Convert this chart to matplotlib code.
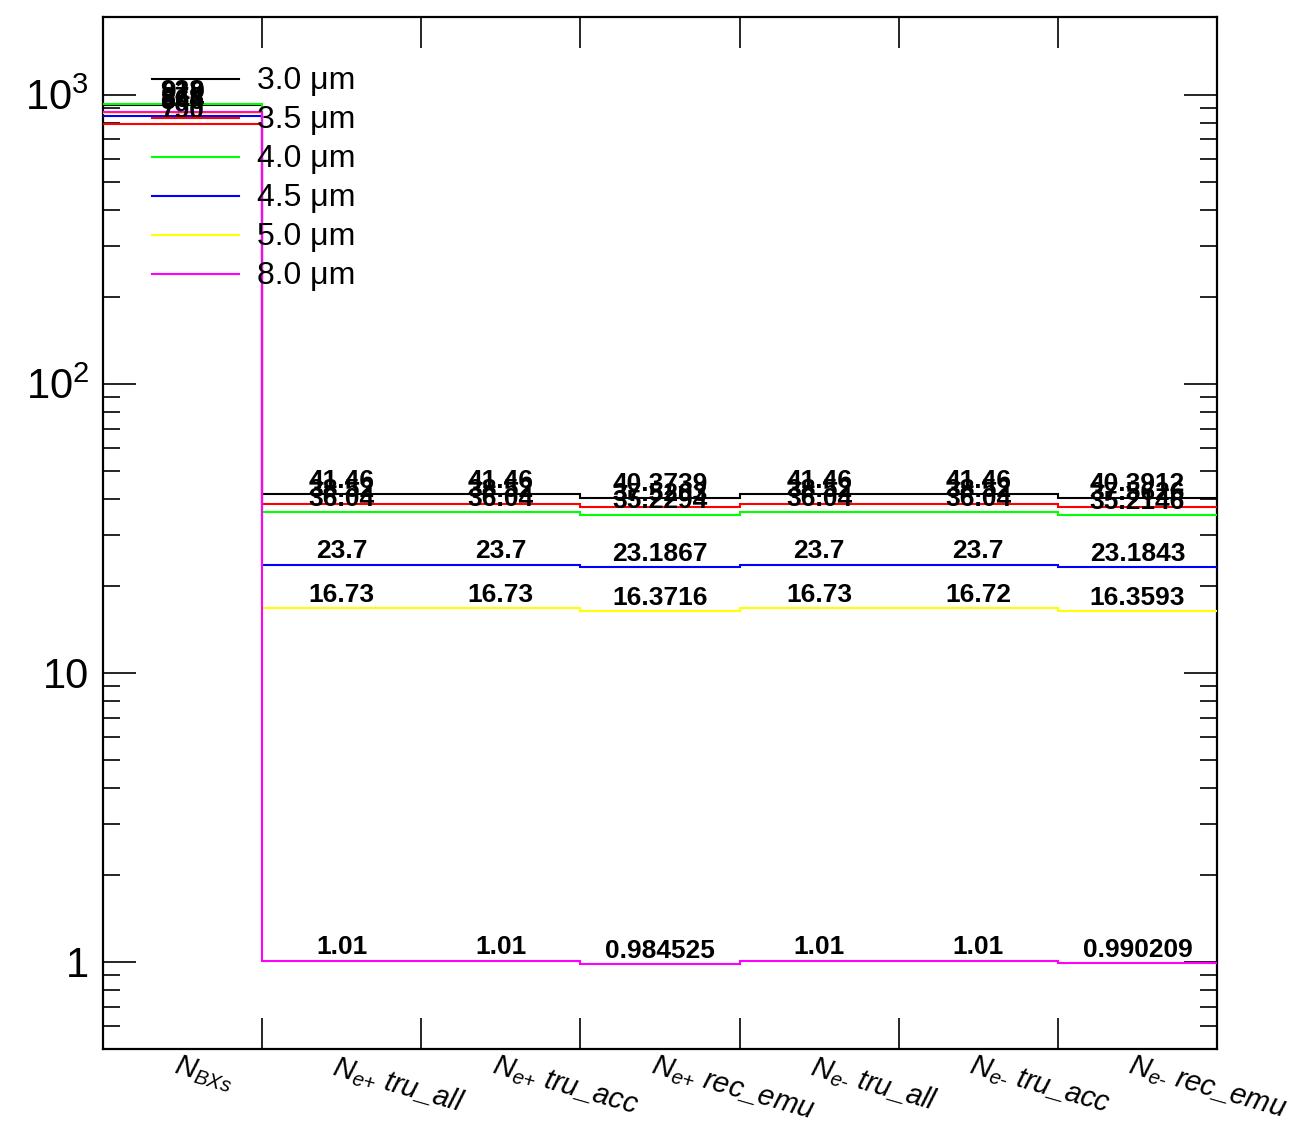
import matplotlib
matplotlib.use("Agg")
import matplotlib.pyplot as plt
import matplotlib.transforms as mtransforms
from matplotlib.ticker import FixedLocator, FixedFormatter, LogLocator, NullFormatter
import numpy as np

plt.rcParams['font.family'] = ['Liberation Sans', 'DejaVu Sans']
plt.rcParams['mathtext.fontset'] = 'custom'
plt.rcParams['mathtext.rm'] = 'Liberation Sans'
plt.rcParams['mathtext.it'] = 'Liberation Sans:italic'
plt.rcParams['mathtext.bf'] = 'Liberation Sans:bold'

# ---- data ----
categories = [r"$N_{BXs}$",
              r"$N_{e\text{+}}$ tru_all", r"$N_{e\text{+}}$ tru_acc", r"$N_{e\text{+}}$ rec_emu",
              r"$N_{e\text{-}}$ tru_all", r"$N_{e\text{-}}$ tru_acc", r"$N_{e\text{-}}$ rec_emu"]
series_labels = ["3.0 μm", "3.5 μm", "4.0 μm", "4.5 μm", "5.0 μm", "8.0 μm"]
series_colors = ["#000000", "#ff0000", "#00ff00", "#0000ff", "#ffff00", "#ff00ff"]
vals_30 = [919, 41.46, 41.46, 40.3739, 41.46, 41.46, 40.3912]
vals_35 = [790, 38.52, 38.52, 37.5203, 38.52, 38.52, 37.5626]
vals_40 = [928, 36.04, 36.04, 35.2294, 36.04, 36.04, 35.2146]
vals_45 = [846, 23.7, 23.7, 23.1867, 23.7, 23.7, 23.1843]
vals_50 = [864, 16.73, 16.73, 16.3716, 16.73, 16.72, 16.3593]
vals_80 = [873, 1.01, 1.01, 0.984525, 1.01, 1.01, 0.990209]
all_series = [vals_30, vals_35, vals_40, vals_45, vals_50, vals_80]

nb = len(categories)
edges = np.arange(nb + 1)
centers = edges[:-1] + 0.5

W, H = 1297, 1125
fig = plt.figure(figsize=(W / 100, H / 100), dpi=100)
L, R, B, T = 103, 1217, 1049, 17
ax = fig.add_axes([L / W, (H - B) / H, (R - L) / W, (B - T) / H])

ax.set_yscale('log')
ymax = 2 * max(max(s) for s in all_series)
ax.set_ylim(0.5, ymax)
ax.set_xlim(0, nb)

for vals, col in zip(all_series, series_colors):
    ax.stairs(vals, edges, color=col, lw=1.5, baseline=None, zorder=3)
    for c, v in zip(centers, vals):
        ax.annotate(f"{v:g}", (c, v), xytext=(0, 4.5), textcoords='offset points',
                    ha='center', va='baseline', fontsize=19, fontweight='bold',
                    color='black', zorder=4)

# spines
for sp in ax.spines.values():
    sp.set_linewidth(1.6)

# x ticks at bin edges, labels placed below bin centers
ax.xaxis.set_major_locator(FixedLocator(edges[1:-1]))
ax.xaxis.set_major_formatter(NullFormatter())
ax.tick_params(axis='x', which='major', direction='in', length=22, width=1.2,
               top=True, bottom=True)
ax.tick_params(axis='x', which='minor', length=0)

trans = mtransforms.blended_transform_factory(ax.transData, ax.transAxes) + \
    mtransforms.ScaledTranslation(-4 / 100, -2 / 100, fig.dpi_scale_trans)
for c, lab in zip(centers, categories):
    ax.text(c, 0, lab, transform=trans, rotation=-16, rotation_mode='anchor',
            ha='left', va='top', fontsize=21, fontstyle='italic')

# y ticks
ax.yaxis.set_major_locator(FixedLocator([1, 10, 100, 1000]))
ax.yaxis.set_major_formatter(FixedFormatter(["1", "10", r"$10^{2}$", r"$10^{3}$"]))
ax.yaxis.set_minor_locator(LogLocator(base=10, subs=np.arange(2, 10)))
ax.yaxis.set_minor_formatter(NullFormatter())
ax.tick_params(axis='y', which='major', direction='in', length=24, width=1.2,
               left=True, right=True, labelsize=30, pad=10)
ax.tick_params(axis='y', which='minor', direction='in', length=12, width=1.2,
               left=True, right=True)

# legend (manual, ROOT style, no frame)
y0_px, dy_px = 78.7, 39.0
for i, (lab, col) in enumerate(zip(series_labels, series_colors)):
    yl = (B - (y0_px + i * dy_px)) / (B - T)
    ax.plot([(152 - L) / (R - L), (239 - L) / (R - L)], [yl, yl], color=col, lw=1.5,
            transform=ax.transAxes, zorder=5, clip_on=False)
    ax.text((257 - L) / (R - L), yl - 10 / (B - T), lab, transform=ax.transAxes,
            ha='left', va='baseline', fontsize=23, zorder=5)

fig.savefig("out.png", dpi=100)
